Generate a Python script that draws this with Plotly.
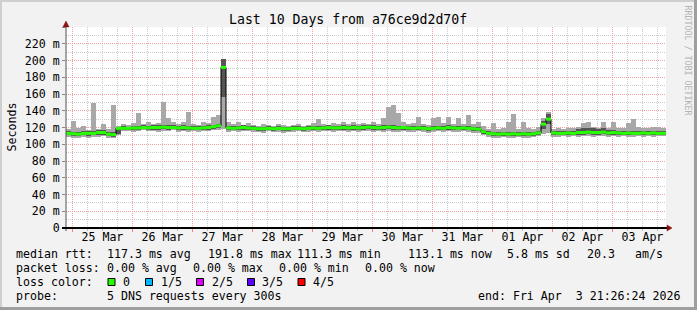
import plotly.graph_objects as go
import pandas as pd

# ---------------- data ----------------
start = pd.Timestamp("2026-03-24 21:26:24")
end = pd.Timestamp("2026-04-03 21:26:24")
bin_hours = 2

median_ms = [113, 112.5, 112, 113, 113, 113, 114, 114, 112, 111.5,
             119, 119, 119, 119.5, 119.5, 120, 119.5, 120, 120, 120.5,
             120, 120, 119.5, 120, 119.5, 119, 119, 119.5, 120, 121,
             122, 191.8, 119.5, 119, 119.5, 120, 119.5, 119, 118.5, 118.5,
             119, 118.5, 119, 118.5, 118.5, 119, 119, 118.5, 119, 119.5,
             119, 119.5, 120, 119.5, 119.5, 120, 119.5, 120, 119.5, 120,
             120.5, 120, 119.5, 120, 120.5, 120, 119.5, 120, 119.5, 119,
             119.5, 119, 118.5, 119, 119.5, 119, 120, 119.5, 119, 119.5,
             119, 118.5, 118, 115, 113, 112.5, 112, 112.5, 112, 112.5,
             112, 112.5, 112, 112.5, 113.5, 124, 130, 113.5, 113, 113,
             113.5, 113, 114, 114, 114.5, 114, 114, 114.5, 113.5, 114,
             113.5, 113, 113.5, 113, 113, 113.5, 113, 113.5, 113, 113.1]

smoke_max = [118, 128, 120, 122, 117, 149, 118, 124, 118, 147,
             122, 124, 123, 125, 137, 124, 126, 124, 125, 151,
             131, 126, 124, 127, 139, 124, 123, 126, 125, 133,
             135, 202, 126, 124, 126, 123, 125, 123, 122, 124,
             123, 122, 124, 123, 122, 123, 124, 122, 123, 125,
             130, 124, 123, 125, 124, 126, 124, 127, 124, 125,
             124, 126, 124, 131, 145, 147, 137, 126, 124, 125,
             132, 124, 123, 131, 132, 125, 132, 124, 131, 124,
             135, 124, 126.5, 122, 118, 125, 118, 119, 127, 136,
             118, 126, 119, 118, 121, 131, 139, 118, 119, 118,
             120, 119, 121, 125, 127, 121, 120, 126, 119, 126,
             120, 119, 125, 130, 121, 119, 120, 120.5, 120.5, 119]

smoke_min = [109, 108, 108, 109, 108, 109, 109, 110, 108, 107,
             111, 116, 116, 115, 116, 117, 116, 116, 115, 116,
             116, 117, 115, 116, 115, 116, 115, 116, 116, 117,
             117, 118, 115, 116, 115, 116, 116, 115, 115, 114,
             116, 115, 115, 114, 115, 115, 116, 115, 115, 116,
             115, 116, 116, 115, 116, 116, 115, 116, 115, 116,
             116, 115, 116, 115, 116, 115, 115, 116, 115, 115,
             116, 115, 114, 115, 116, 115, 116, 115, 115, 116,
             115, 114, 114, 111, 109, 108, 108, 109, 108, 108,
             109, 108, 108, 109, 110, 112, 113, 109, 109, 110,
             109, 110, 109, 110, 110, 109, 110, 110, 109, 110,
             109, 110, 109, 109, 110, 109, 110, 109, 110, 110]

dark_lo = [110.5, 110, 109.5, 110.5, 110, 110.5, 111, 111.5, 109.5, 109,
           112, 117, 117, 117, 117.5, 118, 117, 117.5, 117.5, 118,
           117.5, 118, 117, 117.5, 117, 117, 116.5, 117, 117.5, 118.5,
           119, 156, 117, 116.5, 117, 117.5, 117, 116.5, 116, 116,
           116.5, 116, 116.5, 116, 116, 116.5, 116.5, 116, 116.5, 117,
           116.5, 117, 117.5, 117, 117, 117.5, 117, 117.5, 117, 117.5,
           118, 117.5, 117, 117.5, 118, 117.5, 117, 117.5, 117, 116.5,
           117, 116.5, 116, 116.5, 117, 116.5, 117.5, 117, 116.5, 117,
           116.5, 116, 115.5, 112.5, 110.5, 110, 109.5, 110, 109.5, 110,
           109.5, 110, 109.5, 110, 111, 118, 124, 111, 110.5, 110.5,
           111, 110.5, 111.5, 111.5, 112, 111.5, 111.5, 112, 111, 111.5,
           111, 110.5, 111, 110.5, 110.5, 111, 110.5, 111, 110.5, 110.5]

dark_hi = [115.5, 115, 114.5, 116, 115.5, 116, 116.5, 117, 115, 114.5,
           121, 121.5, 121, 122, 122, 122.5, 122, 122.5, 122.5, 123,
           122.5, 122.5, 122, 122.5, 122, 121.5, 121.5, 122, 122.5, 123.5,
           124.5, 202, 122, 121.5, 122, 122.5, 122, 121.5, 121, 121,
           121.5, 121, 121.5, 121, 121, 121.5, 121.5, 121, 121.5, 122,
           122, 121.5, 122.5, 122, 122, 122.5, 122, 122.5, 122, 122.5,
           123, 122.5, 122, 122.5, 123, 122.5, 122, 122, 121.5, 121.5,
           122, 121.5, 121, 121.5, 122, 121.5, 122.5, 122, 121.5, 122,
           121.5, 121, 120.5, 117.5, 115.5, 115, 114.5, 115, 114.5, 115,
           114.5, 115, 114.5, 115, 116, 128, 136, 116, 115.5, 115.5,
           116, 116, 118.5, 119, 119, 119, 118.5, 119, 117, 117,
           116, 115.5, 116, 115.5, 115.5, 116, 115.5, 116, 115.5, 115.5]

day_labels = ["25 Mar", "26 Mar", "27 Mar", "28 Mar", "29 Mar",
              "30 Mar", "31 Mar", "01 Apr", "02 Apr", "03 Apr"]
y_tick_values = [0, 20, 40, 60, 80, 100, 120, 140, 160, 180, 200, 220, 240]
y_tick_labels = ["0", "20 m", "40 m", "60 m", "80 m", "100 m", "120 m", "140 m",
                 "160 m", "180 m", "200 m", "220 m", ""]

loss_labels = ["0", "1/5", "2/5", "3/5", "4/5"]
loss_colors = ["#26ff00", "#00b8ff", "#dd00ff", "#5e00ff", "#ff0000"]

n = len(median_ms)
for arr in (smoke_max, smoke_min, dark_lo, dark_hi):
    assert len(arr) == n, len(arr)

# ---------------- derived positions ----------------
edges = pd.date_range(start, periods=n + 1, freq=f"{bin_hours}h")
centers = edges[:-1] + pd.Timedelta(hours=bin_hours / 2)
bin_ms = bin_hours * 3600 * 1000
fmt = "%Y-%m-%d %H:%M:%S"
edges_s = [t.strftime(fmt) for t in edges]
centers_s = [t.strftime(fmt) for t in centers]
midnights = pd.date_range("2026-03-25", periods=len(day_labels), freq="D")
noons = midnights + pd.Timedelta(hours=12)

fig = go.Figure()

fig.add_trace(go.Bar(
    x=centers_s, y=[h - l for h, l in zip(smoke_max, smoke_min)], base=smoke_min,
    width=bin_ms, marker=dict(color="#a8a8a8", line=dict(width=0)),
    hoverinfo="skip", showlegend=False))
fig.add_trace(go.Bar(
    x=centers_s, y=[h - l for h, l in zip(dark_hi, dark_lo)], base=dark_lo,
    width=bin_ms, marker=dict(color="#555555", line=dict(width=0)),
    hoverinfo="skip", showlegend=False))
fig.add_trace(go.Scatter(
    x=edges_s, y=median_ms + [median_ms[-1]], mode="lines",
    line=dict(color="#000000", width=1, shape="hv"),
    hoverinfo="skip", showlegend=False))
gx, gy = [], []
for i, m in enumerate(median_ms):
    gx += [edges_s[i], edges_s[i + 1], None]
    gy += [m, m, None]
fig.add_trace(go.Scatter(
    x=gx, y=gy, mode="lines", line=dict(color=loss_colors[0], width=3),
    hoverinfo="skip", showlegend=False))
# invisible trace carrying the label axis
fig.add_trace(go.Scatter(x=[centers_s[0]], y=[0], xaxis="x2", mode="markers",
                         marker=dict(opacity=0), hoverinfo="skip", showlegend=False))

FONT = "DejaVu Sans Mono"
L, R, T, B = 66, 31, 27, 82
W, H = 697, 310
PW, PH = W - L - R, H - T - B


def px(x):
    return (x - L) / PW


def py(y):
    return (T + PH - y) / PH


MAJ = "#f4a0a0"
MIN = "#cccccc"
rng = [start.strftime(fmt), end.strftime(fmt)]

fig.update_layout(
    width=W, height=H,
    margin=dict(l=L, r=R, t=T, b=B, pad=0),
    paper_bgcolor="#f2f2f2", plot_bgcolor="#ffffff",
    barmode="overlay", bargap=0,
    font=dict(family=FONT, size=11.6, color="#000000"),
    showlegend=False,
    xaxis=dict(
        type="date", range=rng,
        tickmode="array", tickvals=[t.strftime(fmt) for t in midnights],
        showticklabels=False, ticks="outside", ticklen=3, tickcolor="#ff8080",
        showgrid=True, gridcolor=MAJ, griddash="1px,1px", gridwidth=1,
        minor=dict(dtick=6 * 3600 * 1000, tick0="2026-03-25 00:00:00",
                   showgrid=True, gridcolor=MIN, griddash="1px,1px",
                   ticks="outside", ticklen=2, tickcolor="#bbbbbb"),
        showline=False, zeroline=False, fixedrange=True,
    ),
    xaxis2=dict(
        type="date", range=rng, overlaying="x", anchor="y", side="bottom",
        tickmode="array", tickvals=[t.strftime(fmt) for t in noons],
        ticktext=day_labels, ticks="", showgrid=False, showline=False,
        zeroline=False, tickfont=dict(family=FONT, size=11.6, color="#000000"),
    ),
    yaxis=dict(
        range=[0, 240], tickmode="array", tickvals=y_tick_values,
        ticktext=y_tick_labels, ticks="outside", ticklen=3, tickcolor="#888888",
        showgrid=True, gridcolor=MAJ, griddash="1px,1px",
        minor=dict(dtick=10, tick0=0, showgrid=True, gridcolor=MIN,
                   griddash="1px,1px"),
        showline=False, zeroline=False,
        tickfont=dict(family=FONT, size=11.6, color="#000000"),
    ),
)

shapes = []
# axes
shapes.append(dict(type="line", xref="paper", yref="paper", x0=px(66), x1=px(66),
                   y0=py(231), y1=py(24), line=dict(color="#555555", width=1)))
shapes.append(dict(type="line", xref="paper", yref="paper", x0=px(62), x1=px(669),
                   y0=py(228), y1=py(228), line=dict(color="#000000", width=2)))
# arrow heads
shapes.append(dict(type="path", xref="paper", yref="paper",
                   path=f"M {px(667)},{py(225)} L {px(672)},{py(228)} L {px(667)},{py(231)} Z",
                   fillcolor="#8b1010", line=dict(color="#8b1010", width=0.5)))
shapes.append(dict(type="path", xref="paper", yref="paper",
                   path=f"M {px(63)},{py(27)} L {px(66)},{py(21)} L {px(69)},{py(27)} Z",
                   fillcolor="#8b1010", line=dict(color="#8b1010", width=0.5)))
# outer 3D frame
shapes.append(dict(type="rect", xref="paper", yref="paper", x0=px(0), x1=px(697),
                   y0=py(0), y1=py(2), fillcolor="#cfcfcf", line=dict(width=0)))
shapes.append(dict(type="rect", xref="paper", yref="paper", x0=px(0), x1=px(2),
                   y0=py(0), y1=py(310), fillcolor="#cfcfcf", line=dict(width=0)))
shapes.append(dict(type="rect", xref="paper", yref="paper", x0=px(0), x1=px(697),
                   y0=py(307), y1=py(310), fillcolor="#9e9e9e", line=dict(width=0)))
shapes.append(dict(type="rect", xref="paper", yref="paper", x0=px(694), x1=px(697),
                   y0=py(0), y1=py(310), fillcolor="#9e9e9e", line=dict(width=0)))
# loss colour swatches
swatch_x = [108, 145.5, 196.5, 247.5, 298]
for sx, col in zip(swatch_x, loss_colors):
    shapes.append(dict(type="rect", xref="paper", yref="paper",
                       x0=px(sx), x1=px(sx + 7), y0=py(278.5), y1=py(285.5),
                       fillcolor=col, line=dict(color="#000000", width=1)))
fig.update_layout(shapes=shapes)

ann = []


def text(x, y, s, size=11.6, color="#000000", xanchor="left", angle=0):
    ann.append(dict(xref="paper", yref="paper", x=px(x), y=py(y), text=s,
                    showarrow=False, xanchor=xanchor, yanchor="middle",
                    textangle=angle, borderpad=0, borderwidth=0,
                    font=dict(family=FONT, size=size, color=color)))


text(347.5, 19.5, "Last 10 Days from a76ce9d2d70f", size=13.2, xanchor="center")
text(11, 127.5, "Seconds", xanchor="center", angle=-90)
text(687.5, 60, "RRDTOOL / TOBI OETIKER", size=8.3, color="#b4b4b4",
     xanchor="center", angle=90)

row1, row2, row3, row4 = 254.3, 268.3, 282.3, 296.3
text(16, row1, "median rtt:")
for x, s in [(107, "117.3 ms avg"), (208, "191.8 ms max"), (296.5, "111.3 ms min"),
             (408, "113.1 ms now"), (507, "5.8 ms sd"), (586.5, "20.3"), (635, "am/s")]:
    text(x, row1, s)
text(16, row2, "packet loss:")
for x, s in [(107, "0.00 % avg"), (193, "0.00 % max"), (279, "0.00 % min"),
             (365, "0.00 % now")]:
    text(x, row2, s)
text(16, row3, "loss color:")
for x, s in zip([123, 160.5, 211.5, 262, 313], loss_labels):
    text(x, row3, s)
text(16, row4, "probe:")
text(107, row4, "5 DNS requests every 300s")
text(478, row4, "end: Fri Apr  3 21:26:24 2026")

fig.update_layout(annotations=ann)
fig.write_html("out.html")
